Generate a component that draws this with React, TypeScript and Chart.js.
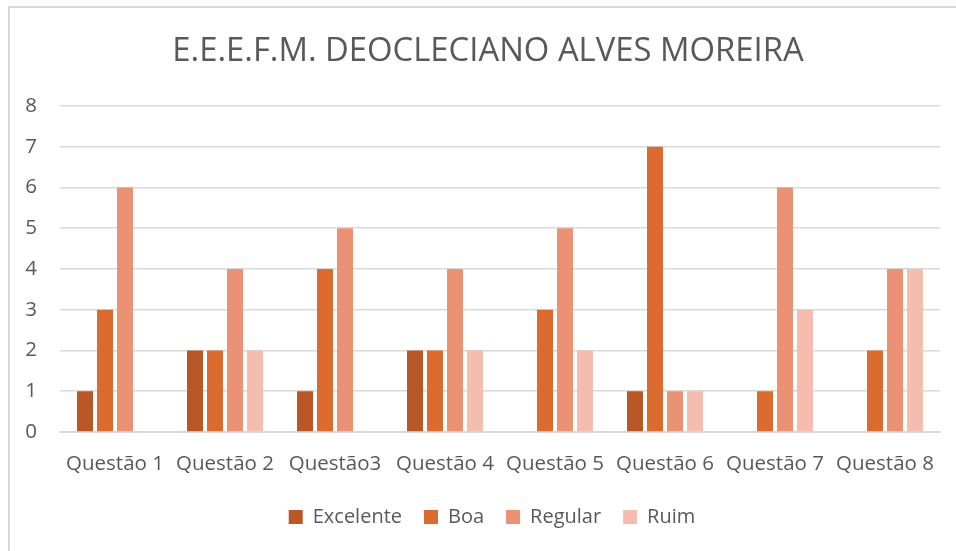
import React, { useEffect, useRef } from "react";
import { Chart, registerables } from "chart.js";

Chart.register(...registerables);

const categories = ["Questão 1", "Questão 2", "Questão3", "Questão 4", "Questão 5", "Questão 6", "Questão 7", "Questão 8"];
const excelente = [1, 2, 1, 2, 0, 1, 0, 0];
const boa = [3, 2, 4, 2, 3, 7, 1, 2];
const regular = [6, 4, 5, 4, 5, 1, 6, 4];
const ruim = [0, 2, 0, 2, 2, 1, 3, 4];
const seriesNames = ["Excelente", "Boa", "Regular", "Ruim"];
const seriesColors = ["#BA5727", "#DC6B2F", "#EC9274", "#F4BDB0"];
const yTicks = [0, 1, 2, 3, 4, 5, 6, 7, 8];
const title = "E.E.E.F.M. DEOCLECIANO ALVES MOREIRA";

const FONT = "'Open Sans', 'Noto Sans', sans-serif";
const TEXT = "#595959";

const shiftPlugin = {
  id: "shiftBlocks",
  afterLayout(chart: any) {
    const t = chart.titleBlock;
    if (t) {
      t.left += 18;
      t.right += 18;
    }
    const l = chart.legend;
    if (l) {
      l.left += 22;
      l.right += 22;
    }
  },
};

export default function App() {
  const ref = useRef<HTMLCanvasElement | null>(null);

  useEffect(() => {
    if (!ref.current) return;
    const values = [excelente, boa, regular, ruim];
    const chart = new Chart(ref.current, {
      type: "bar",
      data: {
        labels: categories,
        datasets: seriesNames.map((name, i) => ({
          label: name,
          data: values[i],
          backgroundColor: seriesColors[i],
          borderWidth: 0,
          barPercentage: 0.8,
          categoryPercentage: 0.727,
        })),
      },
      options: {
        animation: false,
        responsive: false,
        maintainAspectRatio: false,
        layout: { padding: { left: 0, right: 16, top: 0, bottom: 14 } },
        plugins: {
          title: {
            display: true,
            text: title,
            color: TEXT,
            font: { family: FONT, size: 32.8, weight: "normal" },
            padding: { top: 32, bottom: 34.6 },
          },
          legend: {
            position: "bottom",
            labels: {
              color: TEXT,
              font: { family: FONT, size: 20 },
              boxWidth: 14,
              boxHeight: 14,
              padding: 22,
            },
          },
          tooltip: { enabled: false },
        },
        scales: {
          x: {
            grid: { display: false, drawTicks: false },
            border: { display: true, color: "#D9D9D9", width: 2 },
            ticks: {
              color: TEXT,
              font: { family: FONT, size: 20.5 },
              padding: 20,
              maxRotation: 0,
              autoSkip: false,
            },
            afterFit: (s: any) => {
              s.height = 53;
            },
          },
          y: {
            min: 0,
            max: 8,
            afterBuildTicks: (s: any) => {
              s.ticks = yTicks.map((v) => ({ value: v }));
            },
            grid: { color: "#D9D9D9", lineWidth: 1.5, drawTicks: false },
            border: { display: false },
            ticks: {
              color: TEXT,
              font: { family: FONT, size: 20.5 },
              padding: 23,
            },
            afterFit: (s: any) => {
              s.width = 60;
            },
          },
        },
      },
      plugins: [shiftPlugin],
    });
    return () => chart.destroy();
  }, []);

  return (
    <div style={{ position: "fixed", left: 0, top: 0, width: 956, height: 551, overflow: "hidden", background: "#fff" }}>
      <div
        style={{
          position: "absolute",
          left: 8,
          top: 6,
          width: 1000,
          height: 600,
          borderLeft: "2px solid #D9D9D9",
          borderTop: "2px solid #D9D9D9",
        }}
      />
      <canvas ref={ref} width={956} height={551} style={{ position: "absolute", left: 0, top: 0, width: 956, height: 551 }} />
    </div>
  );
}
